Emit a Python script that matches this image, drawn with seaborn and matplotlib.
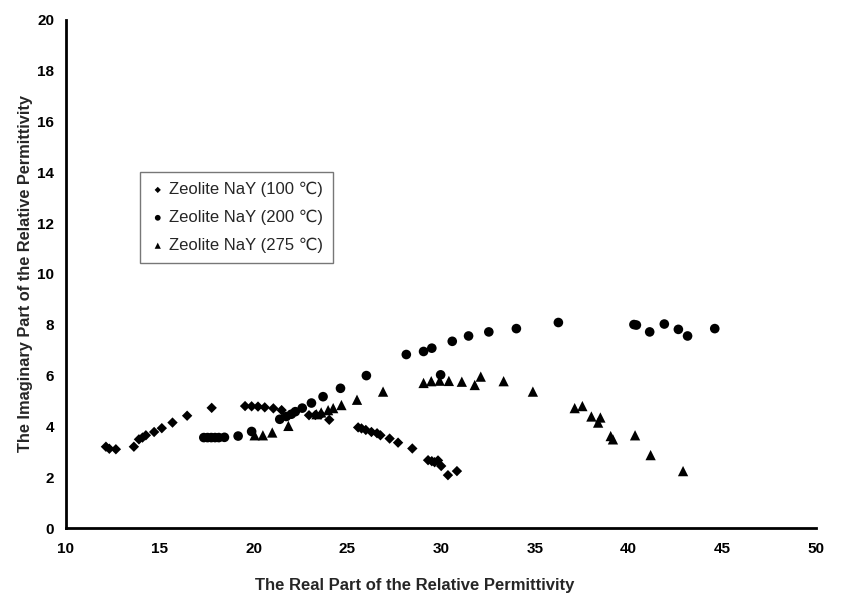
import pandas as pd
import matplotlib
matplotlib.use('Agg')
import matplotlib.pyplot as plt
import seaborn as sns

sns.set_style('white')
plt.rcParams['font.family'] = ['Liberation Sans', 'DejaVu Sans']

# Zeolite NaY (100 C)
x_100 = [12.13, 12.31, 12.66, 13.62, 13.89, 14.08, 14.26, 14.70, 15.11, 15.68, 16.46, 17.77,
         19.55, 19.90, 20.24, 20.60, 21.06, 21.50, 22.96, 23.30, 23.60, 24.04,
         25.58, 25.76, 25.99, 26.29, 26.59, 26.77, 27.26, 27.71, 28.47, 29.31, 29.51,
         29.66, 29.84, 30.01, 30.37, 30.85]
y_100 = [3.20, 3.12, 3.10, 3.20, 3.49, 3.56, 3.65, 3.78, 3.93, 4.15, 4.42, 4.73,
         4.80, 4.79, 4.78, 4.75, 4.71, 4.64, 4.44, 4.45, 4.47, 4.26,
         3.96, 3.92, 3.86, 3.78, 3.73, 3.65, 3.52, 3.36, 3.13, 2.67, 2.63,
         2.59, 2.66, 2.44, 2.08, 2.24]

# Zeolite NaY (200 C)
x_200 = [17.35, 17.55, 17.75, 17.95, 18.15, 18.45, 19.18, 19.90, 21.40, 21.75, 22.02, 22.23,
         22.60, 23.09, 23.71, 24.64, 26.02, 28.15, 29.07, 29.51, 29.98, 30.60, 31.47, 32.55,
         34.02, 36.26, 40.29, 40.42, 41.13, 41.91, 42.66, 43.15, 44.60]
y_200 = [3.56, 3.56, 3.56, 3.56, 3.56, 3.57, 3.62, 3.80, 4.28, 4.39, 4.48, 4.58,
         4.72, 4.92, 5.17, 5.50, 6.00, 6.83, 6.95, 7.08, 6.03, 7.35, 7.56, 7.72,
         7.85, 8.09, 8.01, 7.99, 7.72, 8.03, 7.82, 7.56, 7.85]

# Zeolite NaY (275 C)
x_275 = [20.06, 20.50, 21.00, 21.86, 23.36, 23.61, 23.98, 24.25, 24.69, 25.52, 26.91, 29.07,
         29.48, 29.93, 30.42, 31.11, 31.80, 32.12, 33.34, 34.90, 37.13, 37.54, 38.02, 38.38,
         38.50, 39.05, 39.17, 40.35, 41.18, 42.91]
y_275 = [3.65, 3.65, 3.76, 4.02, 4.48, 4.55, 4.64, 4.72, 4.84, 5.05, 5.37, 5.71,
         5.78, 5.80, 5.79, 5.76, 5.63, 5.96, 5.78, 5.37, 4.72, 4.80, 4.39, 4.15,
         4.35, 3.62, 3.49, 3.65, 2.87, 2.24]

labels = ['Zeolite NaY (100 \u2103)', 'Zeolite NaY (200 \u2103)', 'Zeolite NaY (275 \u2103)']

df = pd.concat([
    pd.DataFrame({'x': x_100, 'y': y_100, 'series': labels[0]}),
    pd.DataFrame({'x': x_200, 'y': y_200, 'series': labels[1]}),
    pd.DataFrame({'x': x_275, 'y': y_275, 'series': labels[2]}),
], ignore_index=True)

fig = plt.figure(figsize=(8.41, 5.95), dpi=100)
ax = fig.add_axes([66 / 841, 1 - 528 / 595, 750 / 841, 508 / 595])

markers = {labels[0]: 'D', labels[1]: 'o', labels[2]: '^'}
sizes = {labels[0]: 28, labels[1]: 48, labels[2]: 55}
for lab in labels:
    sub = df[df['series'] == lab]
    sns.scatterplot(data=sub, x='x', y='y', marker=markers[lab], s=sizes[lab],
                    color='black', edgecolor='none', label=lab, ax=ax)

ax.set_xlim(10, 50)
ax.set_ylim(0, 20)
ax.set_xticks(range(10, 51, 5))
ax.set_yticks(range(0, 21, 2))
for s in ['top', 'right']:
    ax.spines[s].set_visible(False)
for s in ['left', 'bottom']:
    ax.spines[s].set_linewidth(2)
    ax.spines[s].set_color('black')
ax.tick_params(direction='out', length=5, width=1.5, colors='black', labelsize=11)
for t in ax.get_xticklabels() + ax.get_yticklabels():
    t.set_fontweight('bold')
ax.xaxis.set_tick_params(pad=5)

ax.set_xlabel('The Real Part of the Relative Permittivity', fontsize=12, fontweight='bold', labelpad=16)
ax.xaxis.label.set_x(0.465)
ax.set_ylabel('The Imaginary Part of the Relative Permittivity', fontsize=11.8, fontweight='bold', labelpad=3)

leg = ax.legend(loc='upper left', bbox_to_anchor=(0.099, 0.701), markerscale=0.6, fontsize=12,
                frameon=True, fancybox=False, edgecolor='#555555', handletextpad=0.2,
                borderpad=0.6, labelspacing=0.75, handlelength=0.9, borderaxespad=0)
leg.get_frame().set_linewidth(1.0)

fig.savefig('out.png', dpi=100)
